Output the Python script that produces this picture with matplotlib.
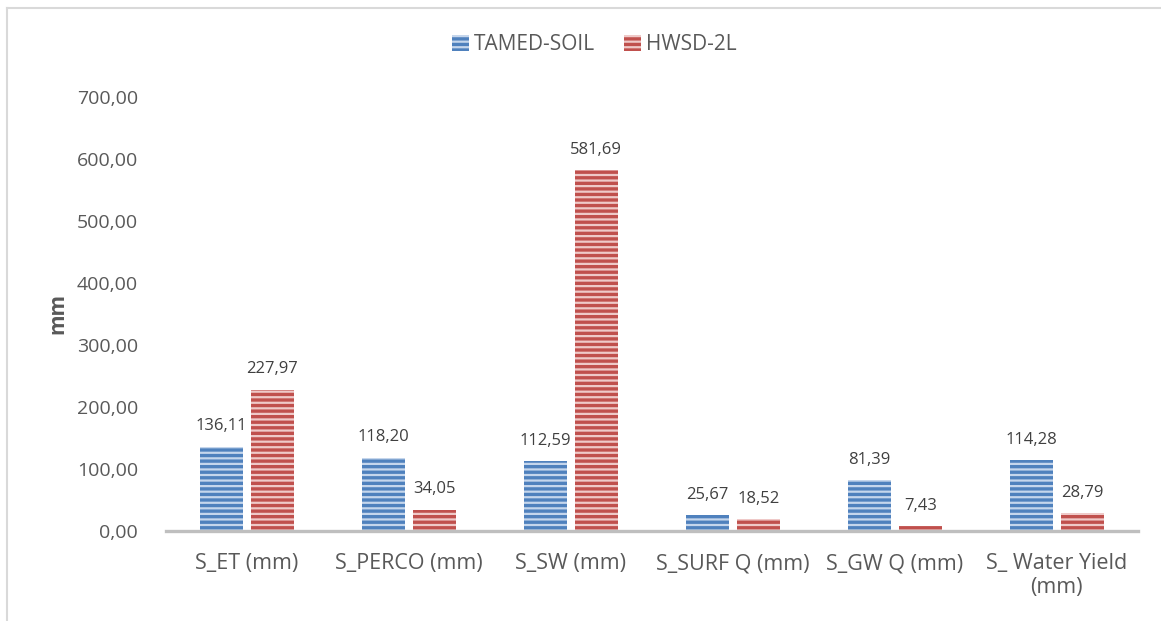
import numpy as np
import matplotlib.pyplot as plt
from matplotlib.patches import Patch
from matplotlib.lines import Line2D

plt.rcParams['font.family'] = ['Open Sans', 'DejaVu Sans']
plt.rcParams['hatch.linewidth'] = 1.6

# valores medios por componente do balanco hidrico
categorias = ['S_ET (mm)', 'S_PERCO (mm)', 'S_SW (mm)', 'S_SURF Q (mm)',
              'S_GW Q (mm)', 'S_ Water Yield\n(mm)']
tamed_soil = [136.11, 118.20, 112.59, 25.67, 81.39, 114.28]
hwsd_2l = [227.97, 34.05, 581.69, 18.52, 7.43, 28.79]
series = ['TAMED-SOIL', 'HWSD-2L']

cor_azul, listra_azul = '#4f81bd', '#c5d6ec'
cor_verm, listra_verm = '#c0504d', '#efc9c8'
cinza_txt = '#595959'

fig = plt.figure(figsize=(11.61, 6.21), dpi=100)
ax = fig.add_axes([0.143, 0.145, 0.837, 0.699])

# moldura do grafico
fig.add_artist(Line2D([7 / 1161, 7 / 1161], [0, 1 - 8 / 621], transform=fig.transFigure,
                      color='#d9d9d9', lw=1.5))
fig.add_artist(Line2D([7 / 1161, 1], [1 - 8 / 621, 1 - 8 / 621], transform=fig.transFigure,
                      color='#d9d9d9', lw=1.5))

x = np.arange(len(categorias))
larg = 0.265
desl = 0.157

b1 = ax.bar(x - desl, tamed_soil, larg, color=cor_azul, edgecolor=listra_azul,
            linewidth=0, hatch='---')
b2 = ax.bar(x + desl, hwsd_2l, larg, color=cor_verm, edgecolor=listra_verm,
            linewidth=0, hatch='---')

def rotular(barras, valores):
    for b, v in zip(barras, valores):
        ax.annotate(f'{v:.2f}'.replace('.', ','),
                    (b.get_x() + b.get_width() / 2, v),
                    xytext=(0, 9), textcoords='offset points',
                    ha='center', va='bottom', fontsize=12, color='#404040')

rotular(b1, tamed_soil)
rotular(b2, hwsd_2l)

ax.set_xlim(-0.5, len(categorias) - 0.5)
ax.set_ylim(0, 700)
ax.set_yticks(np.arange(0, 701, 100))
ax.set_yticklabels([f'{v:.2f}'.replace('.', ',') for v in np.arange(0, 701, 100)])
ax.set_xticks(x)
ax.set_xticklabels(categorias, linespacing=1.15)
ax.tick_params(axis='both', length=0, labelsize=14, labelcolor=cinza_txt)
ax.tick_params(axis='x', pad=16, labelsize=15.5)
ax.tick_params(axis='y', pad=20)
for s in ax.spines.values():
    s.set_visible(False)
ax.axhline(0, color='#bfbfbf', lw=2.4, zorder=3, clip_on=False)

ax.set_ylabel('mm', fontsize=15, fontweight='bold', color=cinza_txt, labelpad=6)

handles = [Patch(facecolor=cor_azul, edgecolor=listra_azul, linewidth=0, hatch='---'),
           Patch(facecolor=cor_verm, edgecolor=listra_verm, linewidth=0, hatch='---')]
fig.legend(handles, series, loc='center', bbox_to_anchor=(0.512, 1 - 45 / 621), ncol=2,
           frameon=False, fontsize=15, labelcolor=cinza_txt, handlelength=0.8,
           handleheight=0.8, handletextpad=0.25, columnspacing=1.4)

fig.savefig('out.png', dpi=100)
